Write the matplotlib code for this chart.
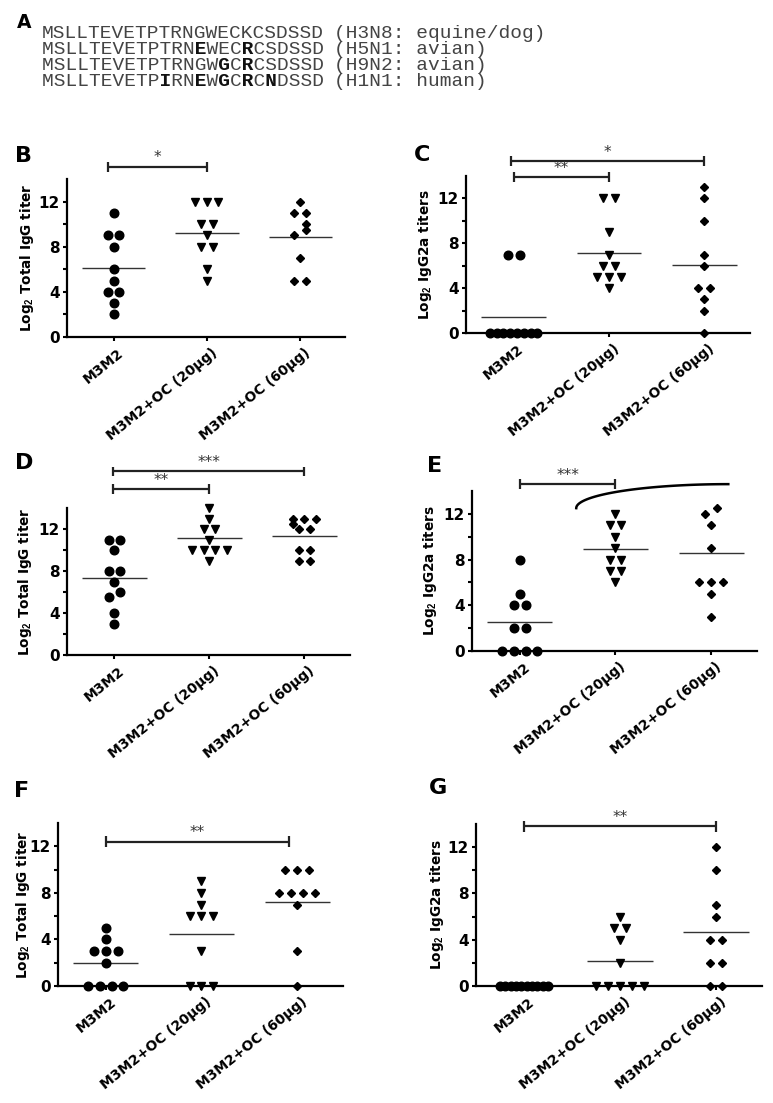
import numpy as np
import matplotlib
matplotlib.use("Agg")
import matplotlib.pyplot as plt
from matplotlib.transforms import ScaledTranslation

plt.rcParams["font.family"] = ["DejaVu Sans"]
plt.rcParams["mathtext.fontset"] = "custom"
plt.rcParams["mathtext.rm"] = "Liberation Sans:bold"
plt.rcParams["mathtext.it"] = "Liberation Sans:bold"
plt.rcParams["mathtext.default"] = "rm"

# ---- data -------------------------------------------------------------
groups = ["M3M2", "M3M2+OC (20µg)", "M3M2+OC (60µg)"]

sequences = [
    "MSLLTEVETPTRNGWECKCSDSSD",
    "MSLLTEVETPTRNEWECRCSDSSD",
    "MSLLTEVETPTRNGWGCRCSDSSD",
    "MSLLTEVETPIRNEWGCRCNDSSD",
]
strains = ["(H3N8: equine/dog)", "(H5N1: avian)", "(H9N2: avian)", "(H1N1: human)"]

b_m3m2 = [11, 9, 9, 8, 6, 5, 4, 4, 3, 2]
b_oc20 = [12, 12, 12, 10, 10, 9, 8, 8, 6, 5]
b_oc60 = [12, 11, 11, 10, 9.5, 9, 7, 5, 5]
b_means = [6.1, 9.2, 8.83]

c_m3m2 = [7, 7, 0, 0, 0, 0, 0, 0, 0, 0]
c_oc20 = [12, 12, 9, 7, 6, 6, 5, 5, 5, 4]
c_oc60 = [13, 12, 10, 7, 6, 4, 4, 3, 2, 0]
c_means = [1.4, 7.1, 6.1]

d_m3m2 = [11, 11, 10, 8, 8, 7, 6, 5.5, 4, 3]
d_oc20 = [14, 13, 12, 12, 11, 10, 10, 10, 10, 9]
d_oc60 = [13, 13, 13, 12.5, 12, 12, 10, 10, 9, 9]
d_means = [7.35, 11.1, 11.35]

e_m3m2 = [8, 5, 4, 4, 2, 2, 0, 0, 0, 0]
e_oc20 = [12, 11, 11, 10, 9, 8, 8, 7, 7, 6]
e_oc60 = [12.5, 12, 11, 9, 6, 6, 6, 5, 3]
e_means = [2.5, 8.9, 8.55]

f_m3m2 = [5, 4, 3, 3, 3, 2, 0, 0, 0, 0]
f_oc20 = [9, 8, 7, 6, 6, 6, 3, 0, 0, 0]
f_oc60 = [10, 10, 10, 8, 8, 8, 8, 7, 3, 0]
f_means = [2.0, 4.5, 7.2]

g_m3m2 = [0, 0, 0, 0, 0, 0, 0, 0, 0, 0]
g_oc20 = [6, 5, 5, 4, 2, 0, 0, 0, 0, 0]
g_oc60 = [12, 10, 7, 6, 4, 4, 2, 2, 0, 0]
g_means = [0.0, 2.2, 4.7]

# significance brackets: (from group, to group, height, stars)
b_sig = [(-0.06, 1.0, 15.1, "*")]
c_sig = [(-0.03, 2.0, 15.3, "*"), (0.0, 1.0, 13.9, "**")]
d_sig = [(-0.02, 2.0, 17.5, "***"), (-0.02, 1.0, 15.8, "**")]
e_sig = [(0.0, 1.0, 14.6, "***")]
f_sig = [(0.0, 1.92, 12.4, "**")]
g_sig = [(0.0, 2.0, 13.8, "**")]

label_igg = "Log$_2$ Total IgG titer"
label_igg2a = "Log$_2$ IgG2a titers"

# ---- figure -----------------------------------------------------------
W, H = 773, 1103
fig = plt.figure(figsize=(W / 100, H / 100), dpi=100)

markers = ["o", "v", "D"]
msizes = [6.2, 6.4, 4.3]


def spread(vals, step=0.123, maxw=0.5):
    vals = np.asarray(vals, dtype=float)
    xs = np.zeros(len(vals))
    uniq, counts = np.unique(vals, return_counts=True)
    cnt = dict(zip(uniq, counts))
    for v, n in cnt.items():
        idx = np.where(vals == v)[0]
        if n > 1:
            s = min(step, maxw / (n - 1))
            xs[idx] = (np.arange(n) - (n - 1) / 2) * s
    for v, n in cnt.items():
        if n != 1:
            continue
        near = [u for u in uniq if u != v and abs(u - v) < 0.6]
        if not near:
            continue
        big = max(near, key=lambda u: cnt[u])
        idx = np.where(vals == v)[0]
        if cnt[big] == 1:
            xs[idx] = -step / 2 if v < big else step / 2
        else:
            xs[idx] = -step * (cnt[big] - 1) / 2
    return xs


def panel(rect, series, means, ylabel, sigs, letter, letter_pos, ylab_px):
    l, r, t, b = rect
    ax = fig.add_axes([l / W, 1 - b / H, (r - l) / W, (b - t) / H])
    ax.set_xlim(-0.5, 2.48)
    ax.set_ylim(0, 14)
    for i, vals in enumerate(series):
        ax.plot(i + spread(vals), vals, linestyle="none", marker=markers[i],
                ms=msizes[i], color="black", clip_on=False, zorder=5)
        ax.hlines(means[i], i - 0.34, i + 0.34, color="#333333", lw=1.0, zorder=4)
    for x0, x1, y, stars in sigs:
        ax.plot([x0, x1], [y, y], color="#222222", lw=1.6, clip_on=False,
                solid_capstyle="butt")
        for xx in (x0, x1):
            ax.plot([xx, xx], [y - 0.45, y + 0.45], color="#222222", lw=1.6,
                    clip_on=False, solid_capstyle="butt")
        ax.text((x0 + x1) / 2, y + 0.1, stars, ha="center", va="bottom",
                fontsize=11, color="#333333")
    for s in ["top", "right"]:
        ax.spines[s].set_visible(False)
    for s in ["left", "bottom"]:
        ax.spines[s].set_linewidth(1.6)
    ax.set_yticks([0, 4, 8, 12])
    ax.set_yticks([2, 6, 10], minor=True)
    ax.set_xticks([0, 1, 2])
    ax.set_xticklabels(groups)
    ax.tick_params(axis="both", which="both", length=3, width=1.5, pad=2)
    for lab in ax.get_yticklabels():
        lab.set_fontweight("bold")
        lab.set_fontsize(11)
    shift = ScaledTranslation(0.04, -0.02, fig.dpi_scale_trans)
    for lab in ax.get_xticklabels():
        lab.set_fontweight("bold")
        lab.set_fontsize(10)
        lab.set_rotation(39)
        lab.set_ha("right")
        lab.set_va("top")
        lab.set_rotation_mode("anchor")
        lab.set_transform(lab.get_transform() + shift)
    ax.set_ylabel(ylabel, fontsize=9.8, fontweight="bold")
    ax.yaxis.set_label_coords(ylab_px / (r - l), 0.5)
    ax.yaxis.label.set_va("center")
    fig.text(letter_pos[0] / W, 1 - letter_pos[1] / H, letter, fontsize=16,
             fontweight="bold", va="top", ha="left")
    return ax


# panel A: alignment, residues differing from H3N8 in bold
fig.text(17 / W, 1 - 13 / H, "A", fontsize=13.5, fontweight="bold", va="top")
adv = 0.6 * 14 * 100 / 72
for i, seq in enumerate(sequences):
    plain = "".join(c if c == sequences[0][k] else " " for k, c in enumerate(seq))
    bold = "".join(" " if c == sequences[0][k] else c for k, c in enumerate(seq))
    yb = 1 - (38 + 16 * i) / H
    fig.text(42 / W, yb, plain, family="Liberation Mono", fontsize=14,
             va="baseline", color="#444444")
    fig.text(42 / W, yb, bold, family="Liberation Mono", fontsize=14,
             fontweight="bold", va="baseline", color="#111111")
    fig.text((42 + adv * (len(seq) + 1)) / W, yb, strains[i], family="Liberation Mono",
             fontsize=14, va="baseline", color="#444444")

panel((67, 345, 179, 337), [b_m3m2, b_oc20, b_oc60], b_means, label_igg, b_sig,
      "B", (15, 146), -40)
panel((466, 750, 176, 333), [c_m3m2, c_oc20, c_oc60], c_means, label_igg2a, c_sig,
      "C", (414, 145), -41)
panel((67, 350, 508, 655), [d_m3m2, d_oc20, d_oc60], d_means, label_igg, d_sig,
      "D", (15, 453), -42)
ax_e = panel((472, 757, 491, 651), [e_m3m2, e_oc20, e_oc60], e_means, label_igg2a,
             e_sig, "E", (427, 456), -42)
panel((58, 343, 823, 986), [f_m3m2, f_oc20, f_oc60], f_means, label_igg, f_sig,
      "F", (14, 781), -35)
panel((476, 762, 824, 986), [g_m3m2, g_oc20, g_oc60], g_means, label_igg2a, g_sig,
      "G", (429, 778), -39)

# curved connector in panel E
t = np.linspace(0, np.pi / 2, 60)
x_start, x_end, y_start, y_end = 0.59, 2.18, 12.5, 14.6
ax_e.plot(x_end - (x_end - x_start) * np.cos(t), y_start + (y_end - y_start) * np.sin(t),
          color="black", lw=1.8, clip_on=False)

fig.savefig("out.png", dpi=100, facecolor="white")
